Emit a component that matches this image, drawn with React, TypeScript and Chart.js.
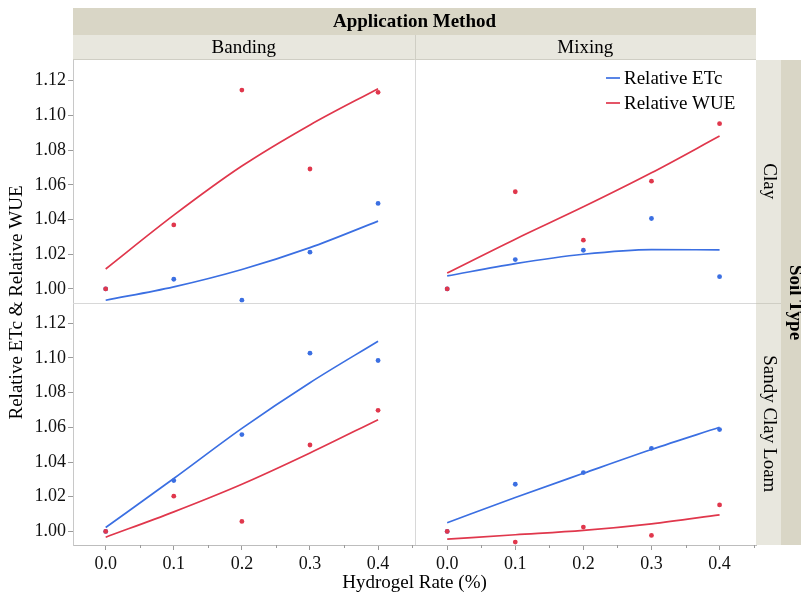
import React, { useEffect, useRef } from 'react';
import { Chart, registerables } from 'chart.js';

Chart.register(...registerables);

// ---------- data ----------
const RATES = [0, 0.1, 0.2, 0.3, 0.4];
const X_TICKS = [0, 0.1, 0.2, 0.3, 0.4];
const X_MINOR_TICKS = [0.05, 0.15, 0.25, 0.35, 0.45];
const Y_TICKS = [1.0, 1.02, 1.04, 1.06, 1.08, 1.1, 1.12];

const METHODS = ['Banding', 'Mixing'];
const SOILS = ['Clay', 'Sandy Clay Loam'];
const SERIES = ['Relative ETc', 'Relative WUE'];

// Banding / Clay
const bandingClayEtcObs = [1.0, 1.0056, 0.9935, 1.0212, 1.0493];
const bandingClayWueObs = [1.0, 1.0369, 1.1146, 1.0691, 1.1133];
const bandingClayEtcFit = [0.9935, 1.0012, 1.0112, 1.0238, 1.0391];
const bandingClayWueFit = [1.0115, 1.0425, 1.0708, 1.0945, 1.1154];
// Mixing / Clay
const mixingClayEtcObs = [1.0, 1.0169, 1.0223, 1.0406, 1.0071];
const mixingClayWueObs = [1.0, 1.056, 1.0281, 1.0621, 1.0952];
const mixingClayEtcFit = [1.0075, 1.0146, 1.02, 1.0227, 1.0225];
const mixingClayWueFit = [1.0092, 1.0287, 1.0473, 1.0669, 1.0881];
// Banding / Sandy Clay Loam
const bandingSclEtcObs = [1.0, 1.0293, 1.0558, 1.1027, 1.0985];
const bandingSclWueObs = [1.0, 1.0203, 1.0058, 1.0498, 1.0698];
const bandingSclEtcFit = [1.0023, 1.0305, 1.0594, 1.0857, 1.1096];
const bandingSclWueFit = [0.9967, 1.0113, 1.0272, 1.0452, 1.0644];
// Mixing / Sandy Clay Loam
const mixingSclEtcObs = [1.0, 1.0272, 1.0339, 1.0479, 1.0587];
const mixingSclWueObs = [1.0, 0.9939, 1.0025, 0.9977, 1.0153];
const mixingSclEtcFit = [1.005, 1.0196, 1.0335, 1.0472, 1.06];
const mixingSclWueFit = [0.9956, 0.9981, 1.0006, 1.0044, 1.0096];

// ---------- style ----------
const BLUE = '#3b6fe2';
const RED = '#e0374c';
const FONT = 'Liberation Serif, Times New Roman, serif';
const STRIP_DARK = '#d9d6c6';
const STRIP_LIGHT = '#e8e7de';
const FRAME = '#d8d8d8';

const X_MIN = -0.048;
const X_MAX = 0.4535;
const Y_MIN = 0.9922;
const Y_MAX = 1.1319;

type Panel = {
  x: string;
  y: string;
  etcObs: number[];
  wueObs: number[];
  etcFit: number[];
  wueFit: number[];
};

const PANELS: Panel[] = [
  { x: 'xL', y: 'yT', etcObs: bandingClayEtcObs, wueObs: bandingClayWueObs, etcFit: bandingClayEtcFit, wueFit: bandingClayWueFit },
  { x: 'xR', y: 'yT', etcObs: mixingClayEtcObs, wueObs: mixingClayWueObs, etcFit: mixingClayEtcFit, wueFit: mixingClayWueFit },
  { x: 'xL', y: 'yB', etcObs: bandingSclEtcObs, wueObs: bandingSclWueObs, etcFit: bandingSclEtcFit, wueFit: bandingSclWueFit },
  { x: 'xR', y: 'yB', etcObs: mixingSclEtcObs, wueObs: mixingSclWueObs, etcFit: mixingSclEtcFit, wueFit: mixingSclWueFit },
];

const pts = (vals: number[]) => RATES.map((x, i) => ({ x, y: vals[i] }));

function buildDatasets() {
  const ds: any[] = [];
  PANELS.forEach((p) => {
    const common = { xAxisID: p.x, yAxisID: p.y };
    ds.push({ ...common, label: SERIES[1], data: pts(p.wueObs), showLine: false, pointRadius: 2.4, pointBackgroundColor: RED, pointBorderWidth: 0, order: 0 });
    ds.push({ ...common, label: SERIES[0], data: pts(p.etcObs), showLine: false, pointRadius: 2.4, pointBackgroundColor: BLUE, pointBorderWidth: 0, order: 1 });
    ds.push({ ...common, label: SERIES[1], data: pts(p.wueFit), showLine: true, borderColor: RED, borderWidth: 1.7, pointRadius: 0, cubicInterpolationMode: 'monotone', order: 2 });
    ds.push({ ...common, label: SERIES[0], data: pts(p.etcFit), showLine: true, borderColor: BLUE, borderWidth: 1.7, pointRadius: 0, cubicInterpolationMode: 'monotone', order: 2 });
  });
  return ds;
}

function xScale(weight: number) {
  return {
    type: 'linear',
    position: 'bottom',
    stack: 'x',
    stackWeight: 1,
    weight,
    min: X_MIN,
    max: X_MAX,
    afterBuildTicks: (s: any) => {
      s.ticks = X_TICKS.map((v) => ({ value: v }));
    },
    afterFit: (s: any) => {
      s.height = 49;
    },
    ticks: {
      callback: (v: any) => Number(v).toFixed(1),
      font: { family: FONT, size: 18 },
      color: '#111',
      padding: 3,
      maxRotation: 0,
      autoSkip: false,
    },
    grid: { drawOnChartArea: false, drawTicks: true, tickLength: 5, color: '#9a9a9a' },
    border: { color: '#bdbdbd' },
  };
}

function yScale(weight: number) {
  return {
    type: 'linear',
    position: 'left',
    stack: 'y',
    stackWeight: 1,
    weight,
    min: Y_MIN,
    max: Y_MAX,
    afterBuildTicks: (s: any) => {
      s.ticks = Y_TICKS.map((v) => ({ value: v }));
    },
    afterFit: (s: any) => {
      s.width = 73;
    },
    ticks: {
      callback: (v: any) => Number(v).toFixed(2),
      font: { family: FONT, size: 18 },
      color: '#111',
      padding: 2,
      autoSkip: false,
    },
    grid: { drawOnChartArea: false, drawTicks: true, tickLength: 5, color: '#9a9a9a' },
    border: { color: '#c8c8c8' },
  };
}

const decorPlugin = {
  id: 'facetDecor',
  beforeDraw(chart: any) {
    const ctx = chart.ctx;
    ctx.save();
    ctx.fillStyle = '#fff';
    ctx.fillRect(0, 0, chart.width, chart.height);
    ctx.restore();
  },
  beforeDatasetsDraw(chart: any) {
    const ctx = chart.ctx;
    const ca = chart.chartArea;
    const midX = chart.scales.xL.right;
    const midY = chart.scales.yT.bottom;
    ctx.save();
    ctx.strokeStyle = FRAME;
    ctx.lineWidth = 1;
    ctx.beginPath();
    ctx.moveTo(Math.round(midX) + 0.5, ca.top);
    ctx.lineTo(Math.round(midX) + 0.5, ca.bottom);
    ctx.moveTo(ca.left, Math.round(midY) + 0.5);
    ctx.lineTo(ca.right, Math.round(midY) + 0.5);
    ctx.stroke();
    ctx.restore();
  },
  afterDraw(chart: any) {
    const ctx = chart.ctx;
    const ca = chart.chartArea;
    const xL = chart.scales.xL;
    const xR = chart.scales.xR;
    const yT = chart.scales.yT;
    const midX = xL.right;
    const midY = yT.bottom;
    const W = chart.width;
    ctx.save();

    // top strips
    const s1Top = 8;
    const s1Bot = 35;
    ctx.fillStyle = STRIP_DARK;
    ctx.fillRect(ca.left, s1Top, ca.right - ca.left, s1Bot - s1Top);
    ctx.fillStyle = STRIP_LIGHT;
    ctx.fillRect(ca.left, s1Bot, ca.right - ca.left, ca.top - s1Bot);
    ctx.strokeStyle = '#cfcec4';
    ctx.lineWidth = 1;
    ctx.beginPath();
    ctx.moveTo(Math.round(midX) + 0.5, s1Bot);
    ctx.lineTo(Math.round(midX) + 0.5, ca.top);
    ctx.moveTo(ca.left, ca.top - 0.5);
    ctx.lineTo(ca.right, ca.top - 0.5);
    ctx.stroke();

    // right strips
    const r1 = ca.right;
    const r2 = ca.right + 25;
    ctx.fillStyle = STRIP_LIGHT;
    ctx.fillRect(r1, ca.top, r2 - r1, ca.bottom - ca.top);
    ctx.fillStyle = STRIP_DARK;
    ctx.fillRect(r2, ca.top, W - r2, ca.bottom - ca.top);
    ctx.strokeStyle = '#cfcec4';
    ctx.beginPath();
    ctx.moveTo(r1, Math.round(midY) + 0.5);
    ctx.lineTo(r2, Math.round(midY) + 0.5);
    ctx.stroke();

    ctx.fillStyle = '#000';
    ctx.textAlign = 'center';
    ctx.textBaseline = 'middle';
    ctx.font = `bold 19px ${FONT}`;
    ctx.fillText('Application Method', (ca.left + ca.right) / 2, (s1Top + s1Bot) / 2 + 1);
    ctx.font = `19px ${FONT}`;
    ctx.fillText(METHODS[0], (ca.left + midX) / 2, (s1Bot + ca.top) / 2 + 1);
    ctx.fillText(METHODS[1], (midX + ca.right) / 2, (s1Bot + ca.top) / 2 + 1);

    const vtext = (t: string, x: number, y: number, font: string, angle: number) => {
      ctx.save();
      ctx.translate(x, y);
      ctx.rotate(angle);
      ctx.font = font;
      ctx.fillText(t, 0, 0);
      ctx.restore();
    };
    vtext(SOILS[0], (r1 + r2) / 2, (ca.top + midY) / 2, `19px ${FONT}`, Math.PI / 2);
    vtext(SOILS[1], (r1 + r2) / 2, (midY + ca.bottom) / 2, `19px ${FONT}`, Math.PI / 2);
    vtext('Soil Type', r2 + 14, midY, `bold 19px ${FONT}`, Math.PI / 2);
    vtext('Relative ETc & Relative WUE', 17, midY, `19px ${FONT}`, -Math.PI / 2);

    ctx.font = `19px ${FONT}`;
    ctx.fillText('Hydrogel Rate (%)', (ca.left + ca.right) / 2, 583);

    // minor x ticks
    ctx.strokeStyle = '#9a9a9a';
    ctx.lineWidth = 1;
    ctx.beginPath();
    [xL, xR].forEach((s: any) => {
      X_MINOR_TICKS.forEach((v) => {
        if (v < s.min || v > s.max) return;
        const px = Math.round(s.getPixelForValue(v)) + 0.5;
        ctx.moveTo(px, ca.bottom);
        ctx.lineTo(px, ca.bottom + 3);
      });
    });
    ctx.stroke();

    // legend (inside top-right panel)
    const lx0 = xR.right - 150;
    const lx1 = lx0 + 14;
    const rows = [
      { label: SERIES[0], color: BLUE, y: ca.top + 18 },
      { label: SERIES[1], color: RED, y: ca.top + 43 },
    ];
    ctx.textAlign = 'left';
    ctx.font = `19px ${FONT}`;
    rows.forEach((r) => {
      ctx.strokeStyle = r.color;
      ctx.lineWidth = 1.7;
      ctx.beginPath();
      ctx.moveTo(lx0, r.y);
      ctx.lineTo(lx1, r.y);
      ctx.stroke();
      ctx.fillStyle = '#000';
      ctx.fillText(r.label, lx1 + 4, r.y + 1);
    });

    ctx.restore();
  },
};

export default function App() {
  const ref = useRef<HTMLCanvasElement | null>(null);
  useEffect(() => {
    document.body.style.margin = '0';
    const canvas = ref.current;
    if (!canvas) return;
    const chart = new Chart(canvas, {
      type: 'scatter',
      data: { datasets: buildDatasets() },
      options: {
        animation: false,
        responsive: false,
        devicePixelRatio: 1,
        events: [],
        layout: { padding: { top: 60, right: 45, left: 0, bottom: 0 } },
        plugins: { legend: { display: false }, tooltip: { enabled: false } },
        scales: {
          xL: xScale(0),
          xR: xScale(1),
          yB: yScale(0),
          yT: yScale(1),
        } as any,
      },
      plugins: [decorPlugin],
    } as any);
    return () => chart.destroy();
  }, []);
  return (
    <div style={{ width: 801, height: 594 }}>
      <canvas ref={ref} width={801} height={594} style={{ display: 'block', width: 801, height: 594 }} />
    </div>
  );
}
